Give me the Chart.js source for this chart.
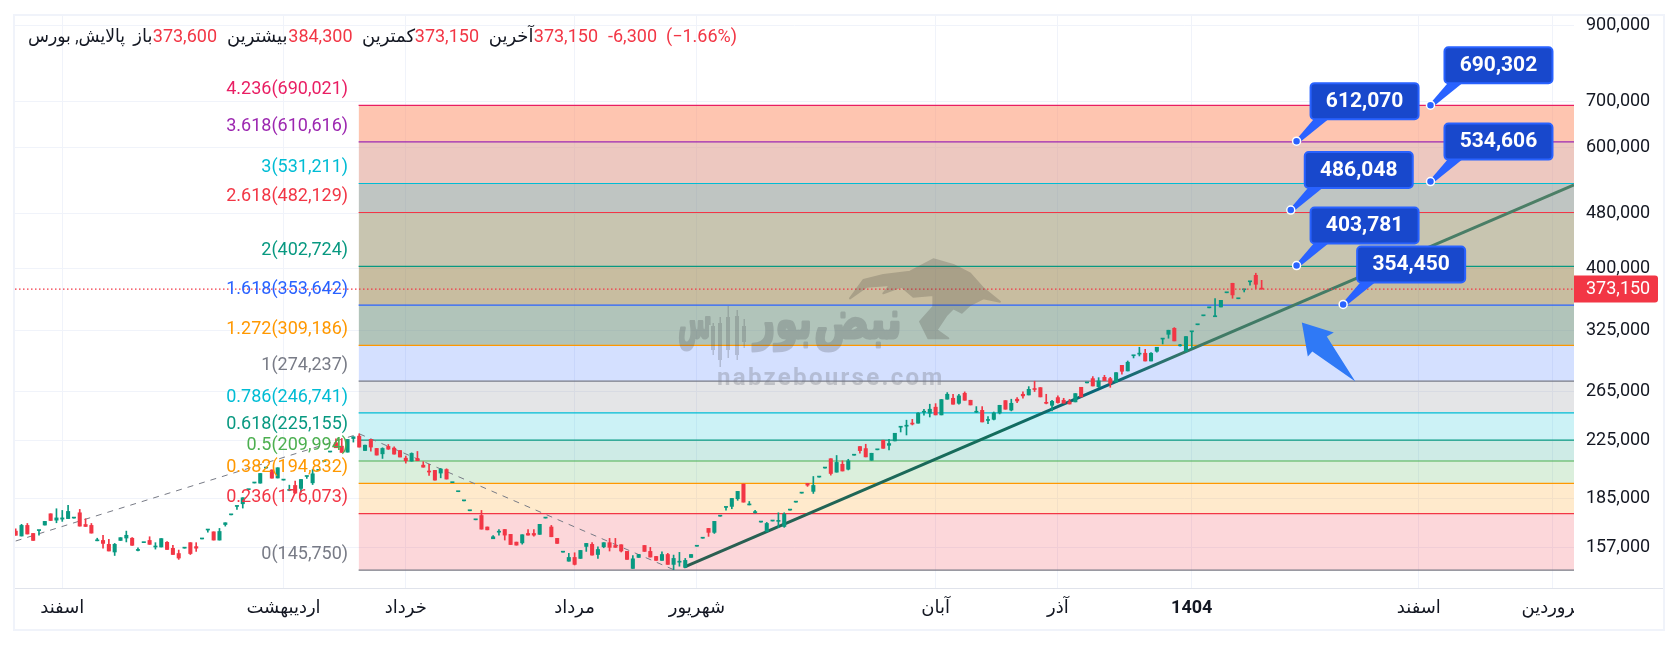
<!DOCTYPE html>
<html lang="fa">
<head>
<meta charset="utf-8">
<title>پالایش، بورس</title>
<script src="https://cdn.jsdelivr.net/npm/chart.js@4"></script>
<style>
html, body { margin: 0; padding: 0; background: #fff; }
canvas { display: block; }
</style>
</head>
<body>
<canvas id="chart" width="1679" height="645"></canvas>
<script>
// candles, one per trading day
const highs = [167400,169900,170400,164800,166600,171600,176000,179000,178000,181000,173700,178600,173100,170400,162200,163800,161600,159400,162500,166100,162500,157100,160000,163000,159800,162000,160400,158400,155900,157100,159800,159800,162000,166900,165700,167600,170800,175600,180600,185700,191000,195300,201400,205300,203800,205300,197200,193700,196300,197400,199600,204100,203700,209900,216600,226200,226400,225700,227700,230000,221400,225700,219000,219500,221900,220200,217500,213500,215800,216800,209500,207600,203500,204800,204600,195500,189700,184000,178000,172700,178000,168400,163700,167000,167000,164300,160100,164100,167000,167000,169900,173700,169300,162100,155000,154200,154500,155700,159400,159800,157600,159800,162100,162100,158700,155200,153100,153600,158300,157300,152600,155000,154200,153300,154700,151600,153600,158100,162400,167600,171600,174800,180000,185300,189700,194400,183400,178000,171400,171000,172000,176600,176600,178400,183200,188800,194800,199400,199200,205300,211600,213900,210100,211200,214300,220400,222100,215500,218200,225100,225800,230400,235300,240700,241400,246900,249700,253900,254400,257900,264000,262500,262500,264600,257300,251900,251900,243600,247400,253000,257000,258200,259600,264600,269300,274200,268400,262500,257300,261100,259000,258100,263100,268700,272900,278500,277500,279700,277800,282200,289200,293400,298800,307200,305100,301800,307200,315900,325200,328100,310300,318400,323700,331400,341500,350700,361500,359400,368800,380500,361500,372500,382600,393500,384300];
const opens = [166100,163400,169300,164800,166400,169500,176000,172300,172900,173200,173500,176600,169800,169300,160800,161000,158900,154900,161000,162300,162200,155700,159800,161000,157500,157500,160000,156800,154100,156900,159800,157700,161800,166700,165700,161200,169800,175400,180400,182000,190800,195100,195000,205100,203800,198400,197000,190300,193500,191600,199400,195200,203500,209700,216400,223200,220700,216300,226400,228200,217500,225700,219000,215100,220500,219200,217500,212000,209900,211800,207100,202600,203500,201700,204100,195300,189500,183800,177800,172500,175000,168400,161900,165500,167000,164300,160100,159700,164800,164800,164300,173500,168400,162100,154800,150200,152100,151600,157800,158900,153600,157600,159800,158300,158700,155200,146600,152100,158300,155200,152600,150600,153600,148600,149700,147100,152100,157900,162200,167600,165400,174600,179800,180400,185100,194400,181300,176700,171200,165900,171800,171600,168700,178200,183000,188600,194800,189700,199000,205100,211600,202300,207700,204300,214100,220400,218900,210500,218000,225100,221300,224600,235100,235900,238000,238300,247200,246400,251400,245000,258200,259000,254700,263400,257300,247200,248800,240500,241400,246600,257000,249000,258200,262500,261900,267000,268400,254900,253000,259600,257300,255900,255900,268700,272700,276600,269300,277800,276600,273600,289200,283800,298600,300200,301100,293400,303100,315700,320800,327300,308700,303100,323500,331200,341300,350500,340200,351500,368600,380500,361300,372300,382400,390800,373600];
const closes = [163800,169300,164500,161000,166600,171600,172100,173600,173600,177400,173700,168900,168700,165000,161000,159400,155400,158900,162500,163800,158400,155900,160000,158900,157700,162000,156200,153600,151800,157100,154100,156900,162000,166900,161200,165900,170800,175600,180600,185700,191000,195300,201400,205300,198300,205300,197200,190500,188600,197400,199600,201200,203700,209900,216600,219500,216100,225700,227700,220000,221400,220000,214200,219000,218500,214900,212800,210200,215400,210200,205700,202400,197000,204400,197700,195500,189700,184000,178000,172700,167200,166800,163000,165700,163900,158800,158500,164100,163900,163900,169900,173700,163000,159400,155000,152100,148600,155700,159400,153300,156200,159800,157300,157300,155400,151100,151400,153600,155200,152300,150600,153600,148600,151600,149900,150600,153600,158100,162400,165400,171600,174800,180000,185300,189700,183000,181400,176800,171400,170400,172000,171800,175800,178400,183200,188800,193700,193500,199200,205300,201400,209000,203100,210100,214300,217400,212900,215500,218200,219100,222600,230400,235300,236100,237600,246400,247400,249700,245000,257900,262500,253900,261100,257300,253300,247400,239300,240700,246600,253000,249700,254700,256700,261100,266900,266700,260200,254700,256400,255300,254800,254100,263100,260200,272900,269900,274500,274800,272300,282200,283500,292200,298800,300400,293400,301100,307200,315900,325200,313800,308900,318400,323700,331400,341500,350700,340400,359400,368800,366000,361500,372500,382600,379200,373150];
const lows = [163800,163400,164500,161000,163900,169500,172100,170800,171600,173200,173500,168900,168700,165000,160800,156900,155400,153100,161000,160200,158400,155400,159800,158900,156400,157500,156200,153600,151100,156900,153600,155200,161800,165500,161200,161200,168900,175400,178600,179400,190800,195100,195000,205100,198300,198400,197000,190100,188600,189200,198100,194100,203500,209700,216400,219500,216100,216300,223700,220000,217500,217000,214200,211800,218300,214900,212800,208500,209900,210200,205700,200100,197000,198500,197700,195300,189500,183800,177800,172500,167200,166800,161900,163900,161200,158800,158500,159000,163900,163300,164300,173500,163000,159400,154800,150200,148300,151600,155200,153300,151600,157100,155400,157300,154900,151100,146600,152100,155200,152300,150600,150600,148600,146000,147700,147100,152100,157900,162200,163200,164800,174600,178200,179000,184100,183000,181300,176400,171200,165700,171800,168000,168200,178200,183000,188600,192900,188400,199000,205100,200300,202300,203100,203800,214100,215500,212900,210500,218000,219100,217900,224600,231400,229100,236900,238300,244700,243300,245000,245000,258200,253900,253900,257300,253300,246900,239300,238000,240900,245800,249700,248300,255300,259000,261900,264900,260200,254200,248300,254700,254800,254100,255900,260200,272700,269900,268400,274800,268700,273600,280700,283800,296400,298400,293400,293400,302100,310600,316600,313800,308200,303100,305800,331200,341300,350500,340200,351500,368600,361900,361300,369600,378000,373800,373150];

// fibonacci extension, lowest level first
const fibRatios = ['0', '0.236', '0.382', '0.5', '0.618', '0.786', '1', '1.272', '1.618', '2', '2.618', '3', '3.618', '4.236'];
const fibPrices = [145750, 176073, 194832, 209994, 225155, 246741, 274237, 309186, 353642, 402724, 482129, 531211, 610616, 690021];
const fibColors = ['#787b86', '#f23645', '#ff9800', '#4caf50', '#089981', '#00bcd4', '#787b86', '#ff9800', '#2962ff', '#089981', '#f23645', '#00bcd4', '#9c27b0', '#e91e63'];
const bandColors = ['', 'rgba(242,54,69,.2)', 'rgba(255,152,0,.2)', 'rgba(76,175,80,.2)', 'rgba(8,153,129,.2)', 'rgba(0,188,212,.2)', 'rgba(120,123,134,.2)', 'rgba(41,98,255,.2)', 'rgba(99,137,117,.5)', 'rgba(145,123,65,.5)', 'rgba(145,139,97,.5)', 'rgba(127,139,133,.5)', 'rgba(219,145,129,.5)', 'rgba(253,139,97,.5)'];

const calloutPrices = [690302, 612070, 534606, 486048, 403781, 354450];
const calloutIndex = [243, 220, 243, 219, 220, 228];

const zigzagIndex = [0, 59, 113];
const zigzagPrices = [160700, 230000, 146000];
const trendIndex = [114.8, 267.65];
const trendPrices = [147200, 528600];

const arrowIndex = 220.9;
const arrowPrice = 333600;

const lastPrice = 373150;

const yTicks = [157000, 185000, 225000, 265000, 325000, 400000, 480000, 600000, 700000, 900000];
const monthIndex = [8, 46, 67, 96, 117, 158, 179, 202, 241, 264];
const monthLabels = ['اسفند', 'اردیبهشت', 'خرداد', 'مرداد', 'شهریور', 'آبان', 'آذر', '1404', 'اسفند', 'فروردین'];

const header = [
    ['پالایش, بورس', 125, '#131722', 97], ['باز', 152.5, '#131722'], ['373,600', 217, '#f23645'],
    ['بیشترین', 287.5, '#131722'], ['384,300', 352.5, '#f23645'], ['کمترین', 415, '#131722'],
    ['373,150', 479, '#f23645'], ['آخرین', 533.5, '#131722'], ['373,150', 598, '#f23645'],
    ['-6,300', 657, '#f23645'], ['(−1.66%)', 737, '#f23645']
];

const GREEN = '#089981';
const RED = '#f23645';
const FONT = 'Roboto, "Noto Sans", "DejaVu Sans", sans-serif';
const X_MIN = -0.12;
const X_MAX = 267.65;
const FIB_START = 58.9;

const fmt = v => v.toLocaleString('en-US');
const candleColor = ctx => closes[ctx.dataIndex] >= opens[ctx.dataIndex] ? GREEN : RED;

function drawCallouts(chart) {
    const ctx = chart.ctx;
    const xs = chart.scales.x, ys = chart.scales.y;
    ctx.save();
    calloutPrices.forEach((price, i) => {
        const ax = xs.getPixelForValue(calloutIndex[i]);
        const ay = ys.getPixelForValue(price);
        const left = ax + 13, top = ay - 59;
        ctx.fillStyle = '#2962ff';
        ctx.beginPath();
        ctx.moveTo(ax, ay - 2);
        ctx.lineTo(left + 5, top + 36);
        ctx.lineTo(left + 20, top + 36);
        ctx.lineTo(ax + 2, ay + 2);
        ctx.closePath();
        ctx.fill();
        ctx.beginPath();
        ctx.roundRect(left + 1, top + 1, 108, 36, 4);
        ctx.fillStyle = '#1848cc';
        ctx.fill();
        ctx.lineWidth = 2;
        ctx.strokeStyle = '#2962ff';
        ctx.stroke();
        ctx.fillStyle = '#fff';
        ctx.font = 'bold 21px ' + FONT;
        ctx.textAlign = 'center';
        ctx.textBaseline = 'middle';
        ctx.fillText(fmt(price), left + 55, top + 19.5);
    });
    ctx.restore();
}

// logo is painted solid on its own canvas and put on the chart at one alpha,
// so the overlapping bits don't come out darker
function drawWatermark(chart) {
    const ctx = chart.ctx;
    const off = document.createElement('canvas');
    off.width = chart.width;
    off.height = chart.height;
    const o = off.getContext('2d');

    o.fillStyle = '#4a4640';
    o.lineJoin = 'round';
    o.strokeStyle = '#4a4640';
    o.lineWidth = 2;
    const bull = [[750,205],[790,150],[850,135],[930,125],[1000,88],[1060,105],[1110,130],[1150,175],[1200,215],[1150,205],[1110,225],[1085,248],[1060,235],[1040,255],[1010,300],[1045,325],[985,325],[960,275],[1000,230],[1000,195],[940,200],[905,170],[850,190],[870,165],[800,170]];
    o.beginPath();
    bull.forEach((p, i) => {
        const x = 600 + p[0] / 3, y = 230 + p[1] / 3;
        if (i) o.lineTo(x, y); else o.moveTo(x, y);
    });
    o.closePath();
    o.fill();
    o.stroke();

    o.fillStyle = '#464a50';
    o.strokeStyle = '#464a50';
    o.lineWidth = 3;
    o.font = 'bold 54px "DejaVu Sans", sans-serif';
    o.textAlign = 'right';
    o.textBaseline = 'alphabetic';
    [['نبض', 902, 338, 88], ['بور', 812, 338, 58], ['س', 712, 338, 34]].forEach(w => {
        o.fillText(w[0], w[1], w[2], w[3]);
        o.strokeText(w[0], w[1], w[2], w[3]);
    });
    // small candles of the logo
    [[713,323,355,326,350],[720,317,367,323,360],[728,306,358,317,350],[737,310,360,316,355],[744,319,348,326,342]].forEach(c => {
        o.clearRect(c[0] - 4, c[3] - 1, 8, c[4] - c[3] + 2);
        o.fillRect(c[0] - 0.5, c[1], 1.5, c[2] - c[1]);
        o.fillRect(c[0] - 2, c[3], 4, c[4] - c[3]);
    });

    ctx.save();
    ctx.globalAlpha = 0.24;
    ctx.drawImage(off, 0, 0);
    ctx.restore();

    ctx.save();
    ctx.fillStyle = 'rgba(120,123,134,.35)';
    ctx.font = 'bold 24px ' + FONT;
    ctx.letterSpacing = '2.3px';
    ctx.textAlign = 'left';
    ctx.textBaseline = 'middle';
    ctx.fillText('nabzebourse.com', 717, 379);
    ctx.restore();
}

function drawArrow(chart) {
    const ctx = chart.ctx;
    const tx = chart.scales.x.getPixelForValue(arrowIndex);
    const ty = chart.scales.y.getPixelForValue(arrowPrice);
    const shape = [[0,0],[32,10],[25,14],[53.5,59],[10.5,29],[6,34]];
    ctx.save();
    ctx.fillStyle = '#2f79f6';
    ctx.beginPath();
    shape.forEach((p, i) => i ? ctx.lineTo(tx + p[0], ty + p[1]) : ctx.moveTo(tx + p[0], ty + p[1]));
    ctx.closePath();
    ctx.fill();
    ctx.restore();
}

const overlay = {
    id: 'overlay',
    beforeDraw(chart) {
        const ctx = chart.ctx;
        ctx.save();
        ctx.fillStyle = '#fff';
        ctx.fillRect(0, 0, chart.width, chart.height);
        ctx.restore();
    },
    beforeDatasetDraw(chart, args) {
        if (args.meta.label === 'anchors') drawCallouts(chart);
    },
    afterDatasetsDraw(chart) {
        const ctx = chart.ctx;
        drawWatermark(chart);
        drawArrow(chart);
        ctx.save();
        ctx.direction = 'ltr';
        ctx.font = '18px ' + FONT;
        ctx.textAlign = 'right';
        ctx.textBaseline = 'middle';
        const labelX = chart.scales.x.getPixelForValue(FIB_START) - 10.5;
        fibPrices.forEach((price, i) => {
            ctx.fillStyle = fibColors[i];
            ctx.fillText(fibRatios[i] + '(' + fmt(price) + ')', labelX, chart.scales.y.getPixelForValue(price) - 15.7);
        });
        header.forEach(h => {
            ctx.fillStyle = h[2];
            ctx.fillText(h[0], h[1], 37.5, h[3]);
        });
        ctx.restore();
    },
    afterDraw(chart) {
        const ctx = chart.ctx;
        const area = chart.chartArea;
        ctx.save();
        // the last time label is cut off at the edge of the plot
        ctx.fillStyle = '#fff';
        ctx.fillRect(area.right, area.bottom + 1, 89, 41);
        // frame and axis line
        ctx.strokeStyle = '#f0f3fa';
        ctx.lineWidth = 2;
        ctx.strokeRect(14, 15, 1650, 615);
        ctx.strokeStyle = '#e0e3eb';
        ctx.lineWidth = 1;
        ctx.beginPath();
        ctx.moveTo(15, area.bottom + 0.5);
        ctx.lineTo(1663, area.bottom + 0.5);
        ctx.stroke();
        // last price tag
        const py = chart.scales.y.getPixelForValue(lastPrice);
        ctx.fillStyle = RED;
        ctx.beginPath();
        ctx.roundRect(area.right, py - 13.5, 84, 27, [0, 3, 3, 0]);
        ctx.fill();
        ctx.fillStyle = '#fff';
        ctx.font = '18px ' + FONT;
        ctx.textAlign = 'left';
        ctx.textBaseline = 'middle';
        ctx.fillText(fmt(lastPrice), area.right + 12, py + 0.5);
        ctx.restore();
    }
};

const datasets = [];

fibPrices.forEach((price, i) => {
    datasets.push({
        type: 'line',
        label: 'fib ' + fibRatios[i],
        data: [{ x: FIB_START, y: price }, { x: X_MAX, y: price }],
        borderColor: fibColors[i],
        borderWidth: 1.2,
        pointRadius: 0,
        fill: i ? '-1' : false,
        backgroundColor: bandColors[i],
        order: 20
    });
});

datasets.push({
    type: 'line',
    label: 'zigzag',
    data: zigzagIndex.map((x, i) => ({ x: x, y: zigzagPrices[i] })),
    borderColor: '#787b86',
    borderWidth: 1,
    borderDash: [6, 6],
    pointRadius: 0,
    order: 10
});

datasets.push({
    type: 'line',
    label: 'trend',
    data: trendIndex.map((x, i) => ({ x: x, y: trendPrices[i] })),
    borderColor(ctx) {
        const c = ctx.chart.ctx;
        const g = c.createLinearGradient(685, 0, 1574, 0);
        g.addColorStop(0, '#2d5d50');
        g.addColorStop(0.35, '#146d5c');
        g.addColorStop(0.47, '#07657a');
        g.addColorStop(0.58, '#3f7a66');
        g.addColorStop(1, '#4d7f66');
        return g;
    },
    borderWidth: 3,
    pointRadius: 0,
    order: 9
});

datasets.push({
    type: 'bar',
    label: 'wicks',
    data: highs.map((h, i) => ({ x: i, y: [lows[i], h] })),
    backgroundColor: candleColor,
    barThickness: 1,
    grouped: false,
    order: 5
});

datasets.push({
    type: 'bar',
    label: 'bodies',
    data: opens.map((o, i) => ({ x: i, y: [o, closes[i]] })),
    backgroundColor: candleColor,
    barThickness: 3.4,
    minBarLength: 1,
    grouped: false,
    order: 4
});

datasets.push({
    type: 'line',
    label: 'last price',
    data: [{ x: X_MIN, y: lastPrice }, { x: X_MAX, y: lastPrice }],
    borderColor: RED,
    borderWidth: 1.2,
    borderDash: [1.5, 2.5],
    pointRadius: 0,
    order: 3
});

datasets.push({
    type: 'scatter',
    label: 'anchors',
    data: calloutPrices.map((p, i) => ({ x: calloutIndex[i], y: p })),
    pointRadius: 4,
    pointBackgroundColor: '#2962ff',
    pointBorderColor: '#fff',
    pointBorderWidth: 1.5,
    clip: false,
    order: 1
});

new Chart(document.getElementById('chart'), {
    data: { datasets: datasets },
    options: {
        responsive: false,
        animation: false,
        layout: { padding: { left: 15, right: 15, top: 16, bottom: 15 } },
        plugins: { legend: { display: false }, tooltip: { enabled: false } },
        scales: {
            x: {
                type: 'linear',
                min: X_MIN,
                max: X_MAX,
                offset: false,
                grid: { color: '#f0f3fa', drawTicks: false, offset: false },
                border: { display: false },
                afterBuildTicks(scale) { scale.ticks = monthIndex.map(v => ({ value: v })); },
                afterFit(scale) {
                    scale.height = 42;
                    scale.paddingLeft = 0;
                    scale.paddingRight = 0;
                },
                ticks: {
                    autoSkip: false,
                    maxRotation: 0,
                    padding: 10,
                    color: '#131722',
                    font: ctx => ({
                        family: FONT,
                        size: 18,
                        weight: monthLabels[ctx.index] === '1404' ? 'bold' : 'normal'
                    }),
                    callback: (v, i) => monthLabels[i]
                }
            },
            y: {
                type: 'logarithmic',
                position: 'right',
                min: 137320,
                max: 930220,
                grid: { color: '#f0f3fa', drawTicks: false },
                border: { display: false },
                afterBuildTicks(scale) { scale.ticks = yTicks.map(v => ({ value: v })); },
                afterFit(scale) {
                    scale.width = 90;
                    scale.paddingTop = 0;
                    scale.paddingBottom = 0;
                },
                ticks: {
                    autoSkip: false,
                    padding: 12,
                    color: '#131722',
                    font: { family: FONT, size: 18 },
                    callback: v => fmt(v)
                }
            }
        }
    },
    plugins: [overlay]
});
</script>
</body>
</html>
